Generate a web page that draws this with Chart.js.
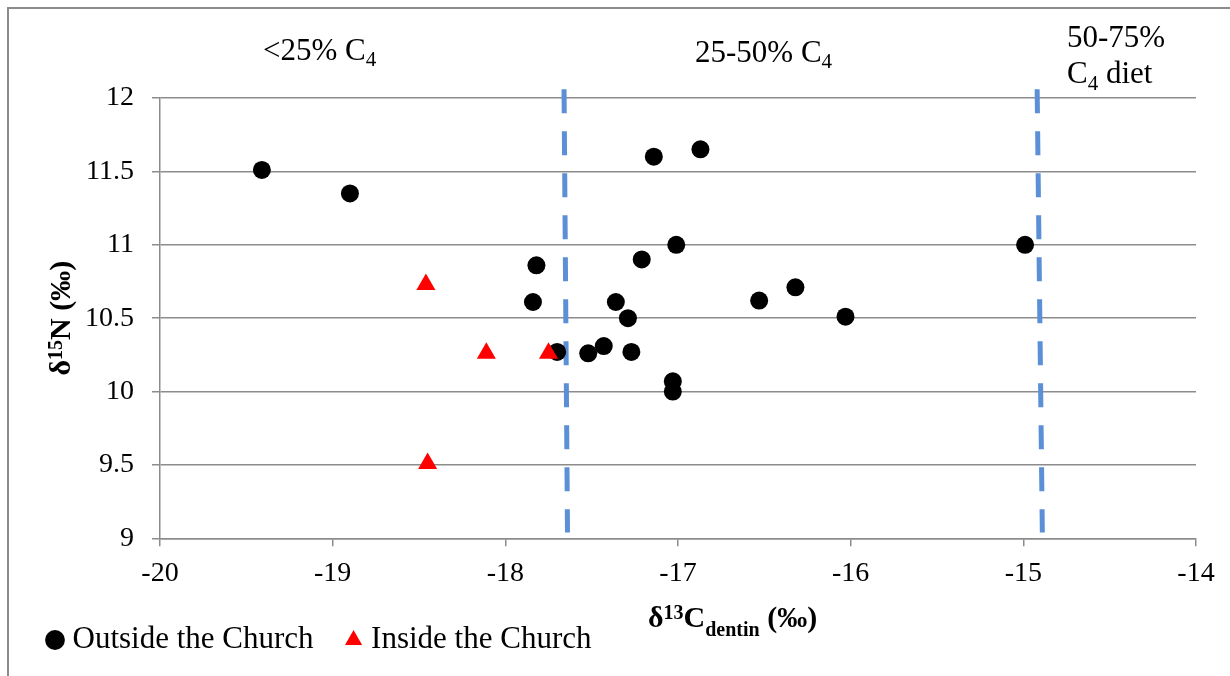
<!DOCTYPE html>
<html>
<head>
<meta charset="utf-8">
<title>δ15N vs δ13C dentin</title>
<script src="https://cdn.jsdelivr.net/npm/chart.js@4.4.1/dist/chart.umd.min.js"></script>
<style>
  html, body { margin: 0; padding: 0; background: #fff; }
  #wrap { width: 1230px; height: 676px; }
</style>
</head>
<body>
<div id="wrap"><canvas id="my-chart" width="1230" height="676"></canvas></div>
<script>
'use strict';

// ******* DATA *******
let outsideX = [-19.41, -18.90, -17.82, -17.84, -17.14, -16.87, -17.01, -17.21, -17.36, -17.29,
  -16.53, -16.32, -16.03, -17.70, -17.52, -17.43, -17.27, -17.03, -17.03, -14.99];
let outsideY = [11.51, 11.35, 10.86, 10.61, 11.60, 11.65, 11.00, 10.90, 10.61, 10.50,
  10.62, 10.71, 10.51, 10.27, 10.26, 10.31, 10.27, 10.07, 10.00, 11.00];

let insideX = [-18.46, -18.11, -17.75, -18.45];
let insideY = [10.73, 10.26, 10.26, 9.51];

// diet boundaries (dashed lines), drawn slightly slanted like the original
let boundaryTopX = [-17.66, -14.92];
let boundaryBottomX = [-17.64, -14.89];
let boundaryY = [12.06, 9.04];

let xTicks = [-20, -19, -18, -17, -16, -15, -14];
let yTicks = [9, 9.5, 10, 10.5, 11, 11.5, 12];

let seriesNames = ['Outside the Church', 'Inside the Church'];

// ******* STYLE *******
const serif = "'Liberation Serif', 'Times New Roman', serif";
const gridGrey = '#8c8c8c';
const dashBlue = '#5B8FD6';

// ****** HELPERS ******
function toPoints(xs, ys) {
  let pts = [];
  for (let i = 0; i < xs.length; i++) {
    pts.push({ x: xs[i], y: ys[i] });
  }
  return pts;
}

function runsWidth(ctx, runs) {
  let w = 0;
  runs.forEach(function (r) {
    ctx.font = (r.bold ? 'bold ' : '') + r.size + 'px ' + serif;
    w += ctx.measureText(r.text).width;
  });
  return w;
}

function drawRuns(ctx, runs, x, y) {
  runs.forEach(function (r) {
    ctx.font = (r.bold ? 'bold ' : '') + r.size + 'px ' + serif;
    ctx.fillText(r.text, x, y + (r.dy || 0));
    x += ctx.measureText(r.text).width;
  });
}

let boundaryDatasets = [];
for (let i = 0; i < boundaryTopX.length; i++) {
  boundaryDatasets.push({
    type: 'line',
    data: [{ x: boundaryTopX[i], y: boundaryY[0] }, { x: boundaryBottomX[i], y: boundaryY[1] }],
    borderColor: dashBlue,
    borderWidth: 5,
    borderDash: [24, 18],
    borderCapStyle: 'butt',
    pointRadius: 0,
    showLine: true,
    fill: false,
    clip: false,
    order: 2
  });
}

// frame + texts with sub/superscripts
let extrasPlugin = {
  id: 'extras',
  beforeDraw: function (chart) {
    let ctx = chart.ctx;
    ctx.save();
    ctx.strokeStyle = gridGrey;
    ctx.lineWidth = 2;
    ctx.beginPath();
    ctx.moveTo(8, 676);
    ctx.lineTo(8, 8);
    ctx.lineTo(1230, 8);
    ctx.stroke();
    ctx.restore();
  },
  afterDraw: function (chart) {
    let ctx = chart.ctx;
    let area = chart.chartArea;
    ctx.save();
    ctx.fillStyle = '#000';
    ctx.textBaseline = 'alphabetic';
    ctx.textAlign = 'left';

    // region labels
    drawRuns(ctx, [{ text: '<25% C', size: 31 }, { text: '4', size: 21, dy: 6 }], 263, 60);
    drawRuns(ctx, [{ text: '25-50% C', size: 31 }, { text: '4', size: 21, dy: 6 }], 695, 62);
    drawRuns(ctx, [{ text: '50-75%', size: 31 }], 1067, 47);
    drawRuns(ctx, [{ text: 'C', size: 31 }, { text: '4', size: 21, dy: 7 }, { text: ' diet', size: 31 }], 1067, 83);

    // x title
    drawRuns(ctx, [
      { text: 'δ', size: 30, bold: true },
      { text: '13', size: 20, bold: true, dy: -8 },
      { text: 'C', size: 30, bold: true },
      { text: 'dentin', size: 20, bold: true, dy: 9 },
      { text: ' (‰)', size: 30, bold: true }
    ], 648, 627);

    // y title
    let yRuns = [
      { text: 'δ', size: 30, bold: true },
      { text: '15', size: 20, bold: true, dy: -8 },
      { text: 'N', size: 30, bold: true },
      { text: ' (‰)', size: 30, bold: true }
    ];
    let w = runsWidth(ctx, yRuns);
    ctx.translate(70, (area.top + area.bottom) / 2 + w / 2);
    ctx.rotate(-Math.PI / 2);
    drawRuns(ctx, yRuns, 0, 0);
    ctx.restore();
  }
};

// ******** CHART *******
let canvasElem = document.getElementById('my-chart').getContext('2d');

let myChartObj = {
  type: 'scatter',
  data: {
    datasets: [{
      label: seriesNames[0],
      data: toPoints(outsideX, outsideY),
      pointStyle: 'circle',
      pointRadius: 9,
      pointBorderWidth: 0,
      backgroundColor: '#000',
      borderColor: '#000',
      order: 1
    },
    {
      label: seriesNames[1],
      data: toPoints(insideX, insideY),
      pointStyle: 'triangle',
      pointRadius: 11,
      pointBorderWidth: 0,
      backgroundColor: '#ff0000',
      borderColor: '#ff0000',
      order: 0
    }].concat(boundaryDatasets)
  },
  options: {
    responsive: false,
    animation: false,
    devicePixelRatio: 1,
    events: [],
    layout: {
      padding: { left: 15, right: 34, top: 98, bottom: 10.5 }
    },
    plugins: {
      tooltip: { enabled: false },
      legend: {
        position: 'bottom',
        align: 'start',
        labels: {
          usePointStyle: true,
          boxWidth: 4,
          boxHeight: 14,
          padding: 38,
          color: '#000',
          font: { family: serif, size: 31 },
          filter: function (item) { return item.datasetIndex < 2; },
          sort: function (a, b) { return a.datasetIndex - b.datasetIndex; }
        }
      }
    },
    scales: {
      x: {
        type: 'linear',
        min: -20,
        max: -14,
        afterBuildTicks: function (scale) {
          scale.ticks = xTicks.map(function (v) { return { value: v }; });
        },
        afterFit: function (scale) { scale.height = 48.2; },
        border: { display: true, color: gridGrey, width: 1.5 },
        grid: { display: true, drawOnChartArea: false, drawTicks: true, tickLength: 8, color: gridGrey, lineWidth: 1.5 },
        ticks: {
          color: '#000', padding: 11, maxRotation: 0, font: { family: serif, size: 28 },
          callback: function (value) { return String(value); }
        }
      },
      y: {
        type: 'linear',
        min: 9,
        max: 12,
        afterBuildTicks: function (scale) {
          scale.ticks = yTicks.map(function (v) { return { value: v }; });
        },
        afterFit: function (scale) { scale.width = 145; },
        border: { display: true, color: gridGrey, width: 1.5 },
        grid: { display: true, drawTicks: true, tickLength: 8, color: gridGrey, lineWidth: 1.5 },
        ticks: {
          color: '#000', padding: 18, font: { family: serif, size: 28 },
          callback: function (value) { return String(value); }
        }
      }
    }
  },
  plugins: [extrasPlugin]
};

new Chart(canvasElem, myChartObj);
</script>
</body>
</html>
